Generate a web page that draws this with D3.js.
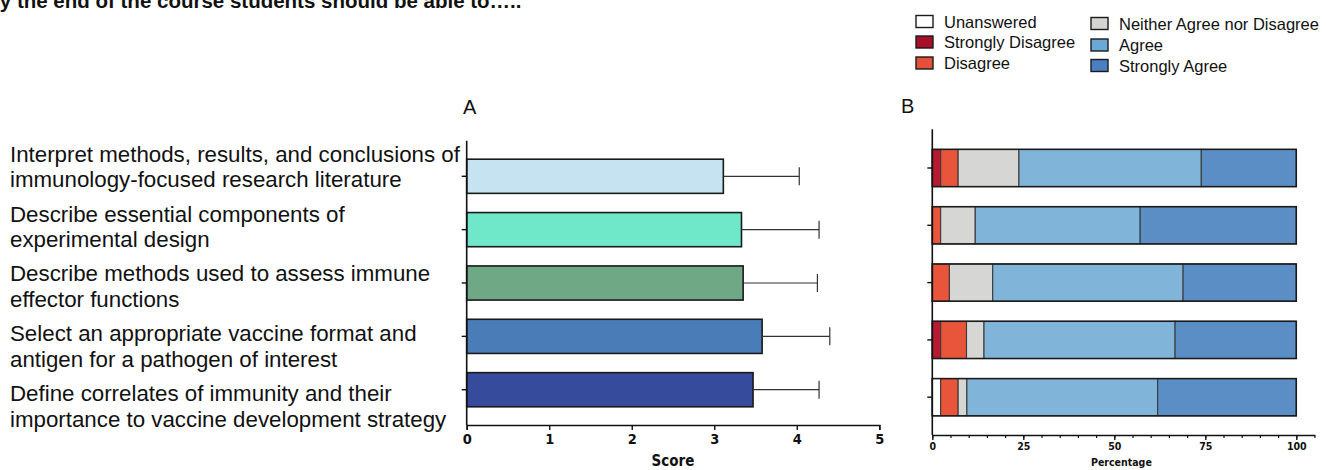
<!DOCTYPE html>
<html>
<head>
<meta charset="utf-8">
<script src="https://cdn.jsdelivr.net/npm/d3@7"></script>
<style>
  html, body { margin: 0; padding: 0; background: #fff; }
  svg { display: block; }
  .lbl { font-family: "Liberation Sans", Arial, sans-serif; fill: #111; }
  .ax { font-family: "Liberation Sans Narrow", "DejaVu Sans Condensed", "Liberation Sans", Arial, sans-serif; font-weight: bold; fill: #111; }
</style>
</head>
<body>
<svg id="chart" width="1326" height="470"></svg>
<script>
// Learning objectives (two lines each)
const objectives = [
  ["Interpret methods, results, and conclusions of", "immunology-focused research literature"],
  ["Describe essential components of", "experimental design"],
  ["Describe methods used to assess immune", "effector functions"],
  ["Select an appropriate vaccine format and", "antigen for a pathogen of interest"],
  ["Define correlates of immunity and their", "importance to vaccine development strategy"]
];

// Panel A: mean self-assessment score and standard deviation
const meanScore = [3.11, 3.33, 3.35, 3.58, 3.47];
const sdScore = [0.92, 0.94, 0.90, 0.82, 0.80];
const barColors = ["#c5e3f0", "#6fe8c9", "#6fa884", "#4a7db8", "#364b9b"];
const scoreTicks = [0, 1, 2, 3, 4, 5];

// Panel B: response distribution (% of students)
const responseLevels = ["Unanswered", "Strongly Disagree", "Disagree", "Neither Agree nor Disagree", "Agree", "Strongly Agree"];
const pctUnanswered       = [0, 0, 0, 0, 2.3];
const pctStronglyDisagree = [2.3, 0, 0, 2.3, 0];
const pctDisagree         = [4.8, 2.3, 4.7, 7.1, 4.8];
const pctNeither          = [16.7, 9.5, 11.9, 4.8, 2.4];
const pctAgree            = [50.1, 45.3, 52.3, 52.5, 52.4];
const pctStronglyAgree    = [26.1, 42.9, 31.1, 33.3, 38.1];
const responseColors = ["#ffffff", "#b51a30", "#e8553a", "#d6d6d4", "#80b4d8", "#5a8ec4"];
const legendColors   = ["#ffffff", "#a8102a", "#e5503a", "#d4d4d2", "#6aa8d6", "#4a7fc1"];
const pctMajorTicks = [0, 25, 50, 75, 100];

const title = "By the end of the course students should be able to…..";

const svg = d3.select("#chart");

// ---------- Title (runs off the top-left edge) ----------
svg.append("text")
  .attr("class", "lbl")
  .attr("x", -15).attr("y", 8)
  .style("font-weight", "bold").style("font-size", "20.5px")
  .text(title);

// ---------- Row labels ----------
const labelY = d3.scalePoint().domain(d3.range(objectives.length)).range([161.7, 401]);
const labels = svg.append("g");
objectives.forEach((lines, i) => {
  const t = labels.append("text").attr("class", "lbl").style("font-size", "22.3px");
  lines.forEach((ln, j) => {
    t.append("tspan").attr("x", 10).attr("y", labelY(i) + j * 25.5).text(ln);
  });
});

// ---------- Panel A ----------
const xA = d3.scaleLinear().domain([0, 5]).range([466.7, 879.3]);
const yA = d3.scaleBand().domain(d3.range(meanScore.length)).range([149.6, 416.4])
  .paddingInner(0.36).paddingOuter(0.18);

svg.append("text").attr("class", "lbl").attr("x", 463).attr("y", 114)
  .style("font-size", "20px").text("A");

const gA = svg.append("g");
gA.selectAll("rect.bar").data(meanScore).join("rect")
  .attr("class", "bar")
  .attr("x", xA(0))
  .attr("y", (d, i) => yA(i))
  .attr("width", d => xA(d) - xA(0))
  .attr("height", yA.bandwidth())
  .attr("fill", (d, i) => barColors[i])
  .attr("stroke", "#1a1a1a").attr("stroke-width", 1.6);

// error bars (mean + SD)
const err = gA.selectAll("g.err").data(meanScore).join("g").attr("class", "err");
err.append("line")
  .attr("x1", d => xA(d)).attr("x2", (d, i) => xA(d + sdScore[i]))
  .attr("y1", (d, i) => yA(i) + yA.bandwidth() / 2)
  .attr("y2", (d, i) => yA(i) + yA.bandwidth() / 2)
  .attr("stroke", "#333").attr("stroke-width", 1.2);
err.append("line")
  .attr("x1", (d, i) => xA(d + sdScore[i])).attr("x2", (d, i) => xA(d + sdScore[i]))
  .attr("y1", (d, i) => yA(i) + yA.bandwidth() / 2 - 9)
  .attr("y2", (d, i) => yA(i) + yA.bandwidth() / 2 + 9)
  .attr("stroke", "#333").attr("stroke-width", 1.2);

// y axis A
const yAxisA = gA.append("g");
yAxisA.append("line").attr("x1", xA(0)).attr("x2", xA(0)).attr("y1", 140.7).attr("y2", 425)
  .attr("stroke", "#111").attr("stroke-width", 1.6);
yAxisA.selectAll("line.tk").data(meanScore).join("line").attr("class", "tk")
  .attr("x1", xA(0) - 5).attr("x2", xA(0))
  .attr("y1", (d, i) => yA(i) + yA.bandwidth() / 2)
  .attr("y2", (d, i) => yA(i) + yA.bandwidth() / 2)
  .attr("stroke", "#111").attr("stroke-width", 1.4);

// x axis A
const xAxisA = svg.append("g").attr("transform", "translate(0,425)")
  .call(d3.axisBottom(xA).tickValues(scoreTicks).tickFormat(d3.format("d")).tickSize(5).tickPadding(4));
xAxisA.select(".domain").attr("stroke", "#111").attr("stroke-width", 1.6);
xAxisA.selectAll(".tick line").attr("stroke", "#111").attr("stroke-width", 1.4);
xAxisA.selectAll(".tick text").attr("class", "ax").style("font-size", "14.5px").attr("fill", "#111");

svg.append("text").attr("class", "ax").attr("x", (xA(0) + xA(5)) / 2).attr("y", 466)
  .attr("text-anchor", "middle").style("font-size", "15px").text("Score");

// ---------- Panel B ----------
const xB = d3.scaleLinear().domain([0, 105]).range([932.3, 1314.5]);
const yB = d3.scaleBand().domain(d3.range(objectives.length)).range([139.35, 425.85])
  .paddingInner(0.35).paddingOuter(0.175);

svg.append("text").attr("class", "lbl").attr("x", 901).attr("y", 113)
  .style("font-size", "20px").text("B");

const rows = objectives.map((o, i) => ({
  idx: i,
  "Unanswered": pctUnanswered[i],
  "Strongly Disagree": pctStronglyDisagree[i],
  "Disagree": pctDisagree[i],
  "Neither Agree nor Disagree": pctNeither[i],
  "Agree": pctAgree[i],
  "Strongly Agree": pctStronglyAgree[i]
}));
const stacked = d3.stack().keys(responseLevels)(rows);
const colorB = d3.scaleOrdinal().domain(responseLevels).range(responseColors);

const gB = svg.append("g");
gB.selectAll("g.layer").data(stacked).join("g").attr("class", "layer")
  .attr("fill", d => colorB(d.key))
  .selectAll("rect").data(d => d.filter(s => s[1] - s[0] > 0)).join("rect")
  .attr("x", d => xB(d[0]))
  .attr("y", d => yB(d.data.idx))
  .attr("width", d => xB(d[1]) - xB(d[0]))
  .attr("height", yB.bandwidth())
  .attr("stroke", "#3a3a3a").attr("stroke-width", 1.1);

// outline of each full bar
gB.selectAll("rect.outline").data(rows).join("rect").attr("class", "outline")
  .attr("x", xB(0)).attr("y", d => yB(d.idx))
  .attr("width", xB(100) - xB(0)).attr("height", yB.bandwidth())
  .attr("fill", "none").attr("stroke", "#1a1a1a").attr("stroke-width", 1.5);

// y axis B
const yAxisB = gB.append("g");
yAxisB.append("line").attr("x1", xB(0)).attr("x2", xB(0)).attr("y1", 129.3).attr("y2", 435)
  .attr("stroke", "#111").attr("stroke-width", 1.6);
yAxisB.selectAll("line.tk").data(rows).join("line").attr("class", "tk")
  .attr("x1", xB(0) - 5).attr("x2", xB(0))
  .attr("y1", d => yB(d.idx) + yB.bandwidth() / 2)
  .attr("y2", d => yB(d.idx) + yB.bandwidth() / 2)
  .attr("stroke", "#111").attr("stroke-width", 1.4);

// x axis B: minor ticks every 5, labels every 25
const xAxisBMinor = svg.append("g").attr("transform", "translate(0,435)")
  .call(d3.axisBottom(xB).tickValues(d3.range(0, 106, 5)).tickFormat("").tickSize(3).tickSizeOuter(0));
xAxisBMinor.select(".domain").attr("stroke", "#111").attr("stroke-width", 1.6);
xAxisBMinor.selectAll(".tick line").attr("stroke", "#111").attr("stroke-width", 1.2);

const xAxisB = svg.append("g").attr("transform", "translate(0,435)")
  .call(d3.axisBottom(xB).tickValues(pctMajorTicks).tickFormat(d3.format("d")).tickSize(5).tickPadding(3));
xAxisB.select(".domain").remove();
xAxisB.selectAll(".tick line").attr("stroke", "#111").attr("stroke-width", 1.4);
xAxisB.selectAll(".tick text").attr("class", "ax").style("font-size", "10.5px").attr("fill", "#111");

svg.append("text").attr("class", "ax").attr("x", (xB(0) + xB(105)) / 2 - 2).attr("y", 466)
  .attr("text-anchor", "middle").style("font-size", "10.5px").text("Percentage");

// ---------- Legend ----------
const legendPos = [
  { x: 916, y: 15.5 }, { x: 916, y: 36 }, { x: 916, y: 57 },
  { x: 1091, y: 17.5 }, { x: 1091, y: 39 }, { x: 1091, y: 59.5 }
];
const legend = svg.append("g");
responseLevels.forEach((lvl, i) => {
  const p = legendPos[i];
  legend.append("rect").attr("x", p.x).attr("y", p.y).attr("width", 17).attr("height", 12)
    .attr("fill", legendColors[i]).attr("stroke", "#1a1a1a").attr("stroke-width", 1.4);
  legend.append("text").attr("class", "lbl").attr("x", p.x + 28).attr("y", p.y + 12)
    .style("font-size", "16.5px").text(lvl);
});
</script>
</body>
</html>
